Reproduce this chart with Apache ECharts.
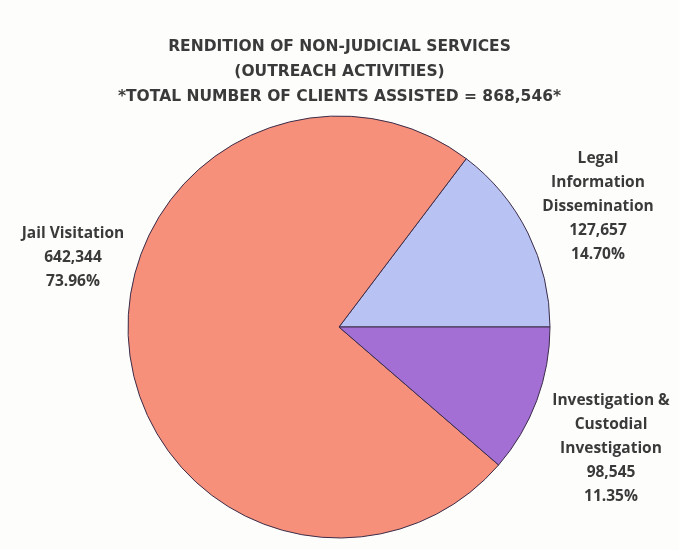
<!DOCTYPE html>
<html>
<head>
<meta charset="utf-8">
<script src="https://cdn.jsdelivr.net/npm/echarts@6/dist/echarts.min.js"></script>
<style>html,body{margin:0;padding:0;background:#fdfdfc;}#c{width:679px;height:550px;}</style>
</head>
<body>
<div id="c"></div>
<script>
const titleLines = ['RENDITION OF NON-JUDICIAL SERVICES', '(OUTREACH ACTIVITIES)', '*TOTAL NUMBER OF CLIENTS ASSISTED = 868,546*'];
const categories = ['Legal\nInformation\nDissemination', 'Jail Visitation', 'Investigation &\nCustodial\nInvestigation'];
const values = [127657, 642344, 98545];
const colors = ['#b9c3f3', '#f6907a', '#a46fd4'];

const labelPos = [
  {x: 598, y: 207},
  {x: 73, y: 258},
  {x: 611, y: 449}
];

const total = values.reduce((a, b) => a + b, 0);

const chart = echarts.init(document.getElementById('c'));
chart.setOption({
  backgroundColor: '#fdfdfc',
  title: {
    text: titleLines.join('\n'),
    left: 'center',
    top: 29,
    textStyle: {fontFamily: 'DejaVu Sans', fontSize: 15.5, fontWeight: 'bold', color: '#3a3a3a', lineHeight: 25}
  },
  series: [{
    type: 'pie',
    center: [339, 327],
    radius: 211,
    startAngle: 0,
    clockwise: false,
    animation: false,
    data: categories.map((c, i) => ({name: c, value: values[i], itemStyle: {color: colors[i]}})),
    itemStyle: {borderColor: '#3b2d4a', borderWidth: 1},
    label: {
      show: true,
      position: 'outside',
      fontFamily: 'Open Sans',
      fontSize: 15.5,
      fontWeight: 'bold',
      color: '#3a3a3a',
      lineHeight: 24,
      align: 'center',
      overflow: 'none',
      width: 200,
      formatter: p => p.name + '\n' + p.value.toLocaleString('en-US') + '\n' + (p.value / total * 100).toFixed(2) + '%'
    },
    labelLine: {show: false},
    labelLayout: p => ({x: labelPos[p.dataIndex].x, y: labelPos[p.dataIndex].y, align: 'center', verticalAlign: 'middle'})
  }]
});
</script>
</body>
</html>
